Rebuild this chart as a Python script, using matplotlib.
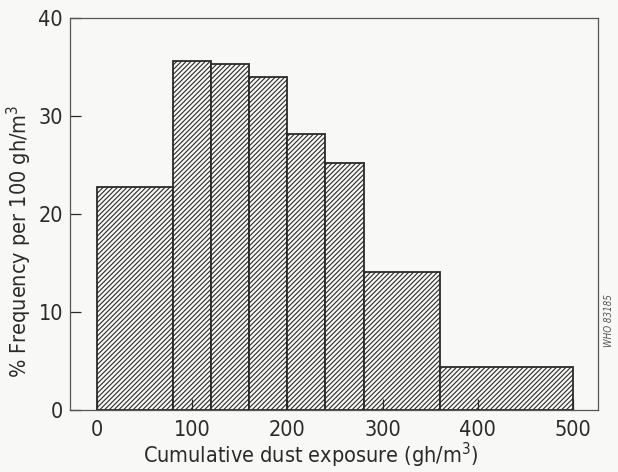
import matplotlib.pyplot as plt
import numpy as np

plt.rcParams['font.family'] = ['DejaVu Sans']
plt.rcParams['font.stretch'] = 'condensed'
plt.rcParams['hatch.linewidth'] = 0.8
plt.rcParams['hatch.color'] = '#333333'

# bin edges (gh/m3) and % frequency per 100 gh/m3
bin_edges = [0, 80, 120, 160, 200, 240, 280, 360, 500]
frequency = [22.8, 35.6, 35.3, 34.0, 28.2, 25.2, 14.1, 4.35]
x_ticks = [0, 100, 200, 300, 400, 500]
y_ticks = [0, 10, 20, 30, 40]

bg = '#f8f9f6'
fig = plt.figure(figsize=(6.18, 4.72), dpi=100, facecolor=bg)
ax = fig.add_axes([0.1133, 0.1314, 0.8543, 0.8305], facecolor=bg)

lefts = np.array(bin_edges[:-1])
widths = np.diff(bin_edges)
ax.bar(lefts, frequency, width=widths, align='edge', facecolor=bg,
       edgecolor='#2a2a2a', linewidth=1.3, hatch='///////')

ax.set_xlim(-28, 526)
ax.set_ylim(0, 40)
ax.set_xticks(x_ticks)
ax.set_yticks(y_ticks)
ax.tick_params(direction='in', length=8, width=0.9, labelsize=15.5,
               colors='#2a2a2a', top=False, right=False)
ax.tick_params(axis='x', pad=7)
ax.tick_params(axis='y', pad=5)
for s in ax.spines.values():
    s.set_color('#555555')
    s.set_linewidth(0.9)

ax.set_xlabel('Cumulative dust exposure (gh/m$^3$)', fontsize=15.5,
              color='#2a2a2a')
ax.set_ylabel('% Frequency per 100 gh/m$^3$', fontsize=15.5,
              color='#2a2a2a')
ax.xaxis.set_label_coords(0.455, -0.078)
ax.yaxis.set_label_coords(-0.068, 0.43)

fig.text(0.985, 0.32, 'WHO 83185', rotation=90, fontsize=7,
         style='italic', color='#555555', ha='center', va='center')

fig.savefig('out.png', dpi=100, facecolor=bg)
